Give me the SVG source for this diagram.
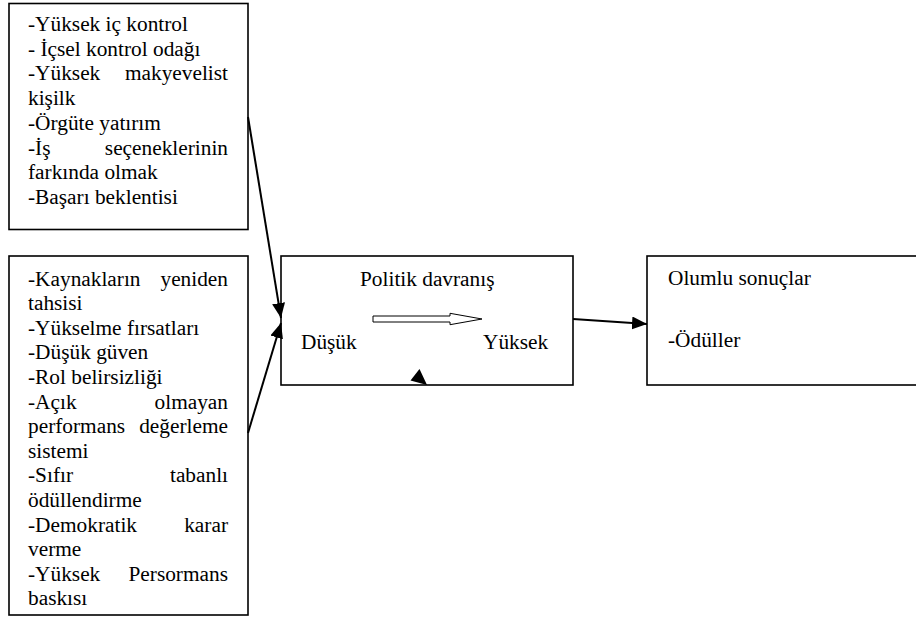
<svg xmlns="http://www.w3.org/2000/svg" width="916" height="618" viewBox="0 0 916 618">
<style>
text{font-family:'Liberation Serif','Times New Roman',serif;font-size:21.33px;fill:#000}
.box{fill:#fff;stroke:#000;stroke-width:1.6}
.conn{stroke:#000;stroke-width:2;fill:none}
.r{text-anchor:end}
</style>
<defs>
<marker id="ah" markerUnits="userSpaceOnUse" markerWidth="16" markerHeight="14" refX="15" refY="6.5" orient="auto">
<path d="M0,0 L15,6.5 L0,13 z" fill="#000"/>
</marker>
</defs>
<rect width="916" height="618" fill="#fff"/>
<g id="node-factors-individual">
<rect class="box" x="9" y="3.5" width="239" height="226"/>
<text x="28" y="31">-Yüksek iç kontrol</text>
<text x="28" y="55.7">- İçsel kontrol odağı</text>
<text x="28" y="80.4">-Yüksek</text><text class="r" x="228" y="80.4">makyevelist</text>
<text x="28" y="105">kişilk</text>
<text x="28" y="129.8">-Örgüte yatırım</text>
<text x="28" y="154.5">-İş</text><text class="r" x="228" y="154.5">seçeneklerinin</text>
<text x="28" y="179">farkında olmak</text>
<text x="28" y="203.7">-Başarı beklentisi</text>
</g>
<g id="node-factors-organizational">
<rect class="box" x="9" y="256" width="239" height="359"/>
<text x="28" y="285.5">-Kaynakların</text><text class="r" x="228" y="285.5">yeniden</text>
<text x="28" y="310">tahsisi</text>
<text x="28" y="334.7">-Yükselme fırsatları</text>
<text x="28" y="359.3">-Düşük güven</text>
<text x="28" y="384">-Rol belirsizliği</text>
<text x="28" y="408.5">-Açık</text><text class="r" x="228" y="408.5">olmayan</text>
<text x="28" y="433">performans</text><text class="r" x="228" y="433">değerleme</text>
<text x="28" y="457.7">sistemi</text>
<text x="28" y="482.3">-Sıfır</text><text class="r" x="228" y="482.3">tabanlı</text>
<text x="28" y="507">ödüllendirme</text>
<text x="28" y="531.5">-Demokratik</text><text class="r" x="228" y="531.5">karar</text>
<text x="28" y="556">verme</text>
<text x="28" y="580.7">-Yüksek</text><text class="r" x="228" y="580.7">Persormans</text>
<text x="28" y="605.3">baskısı</text>
</g>
<g id="node-political-behavior">
<rect class="box" x="281" y="256" width="292" height="129"/>
<text x="360" y="285.7">Politik davranış</text>
<text x="301" y="349">Düşük</text>
<text x="483" y="349">Yüksek</text>
<polygon points="373,316 450,316 450,313.3 482,319 450,324.7 450,322 373,322" fill="#fff" stroke="#000" stroke-width="1"/>
<polygon points="419.5,369 410.5,380.5 427,385" fill="#000"/>
</g>
<g id="node-positive-outcomes">
<rect class="box" x="647" y="256" width="280" height="129"/>
<text x="668" y="285">Olumlu sonuçlar</text>
<text x="668" y="346.7">-Ödüller</text>
</g>
<g id="connectors">
<line class="conn" x1="248" y1="117" x2="281" y2="318" marker-end="url(#ah)"/>
<line class="conn" x1="248" y1="433" x2="281" y2="323" marker-end="url(#ah)"/>
<line class="conn" x1="573" y1="319" x2="647" y2="324" marker-end="url(#ah)"/>
</g>
</svg>
